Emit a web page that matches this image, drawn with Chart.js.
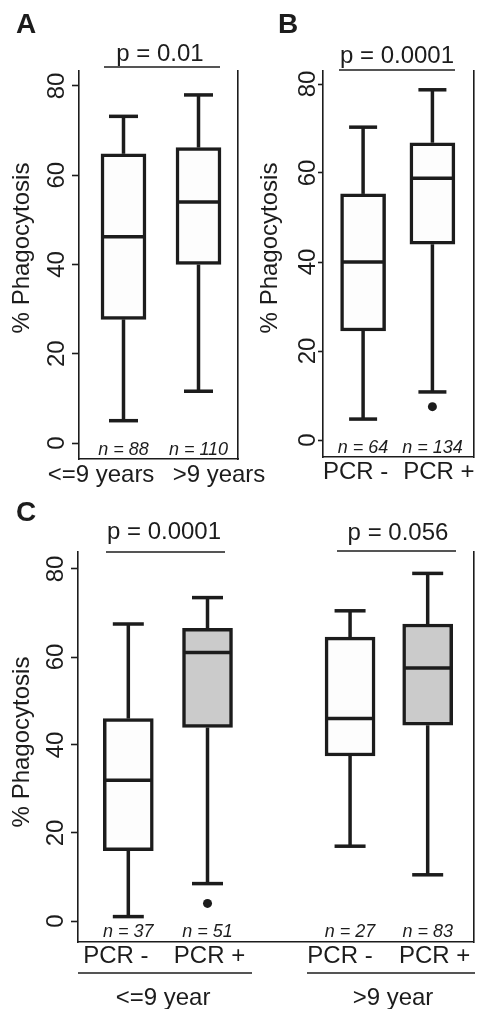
<!DOCTYPE html>
<html lang="en">
<head>
<meta charset="UTF-8">
<meta name="viewport" content="width=device-width, initial-scale=1.0">
<title>% Phagocytosis</title>
<script src="https://cdn.jsdelivr.net/npm/chart.js"></script>
<style>
    body {
        margin: 0;
        background: #ffffff;
    }
    #wrap {
        position: relative;
        width: 478px;
        height: 1009px;
        overflow: hidden;
    }
    canvas {
        position: absolute;
    }
</style>
</head>
<body>
<div id="wrap">
    <canvas id="chartA"></canvas>
    <canvas id="chartB"></canvas>
    <canvas id="chartC"></canvas>
</div>

<script>
    // A: age groups
    const groupsA = ["<=9 years", ">9 years"];
    const minA = [5, 11.6];
    const q1A = [27.7, 40];
    const medA = [46.2, 54];
    const q3A = [64.8, 66.2];
    const maxA = [73.2, 78];
    const outA = [[], []];
    const nA = [88, 110];
    const pA = ["p = 0.01"];

    // B: PCR status
    const groupsB = ["PCR -", "PCR +"];
    const minB = [4.7, 10.8];
    const q1B = [24.5, 44];
    const medB = [40, 58.8];
    const q3B = [55.3, 66.8];
    const maxB = [70.3, 78.7];
    const outB = [[], [7.5]];
    const nB = [64, 134];
    const pB = ["p = 0.0001"];

    // C: PCR status within age groups
    const groupsC = ["PCR -", "PCR +", "PCR -", "PCR +"];
    const agesC = ["<=9 year", ">9 year"];
    const minC = [1, 8.5, 17, 10.5];
    const q1C = [16, 44, 37.5, 44.5];
    const medC = [32, 61, 46, 57.5];
    const q3C = [46, 66.5, 64.5, 67.5];
    const maxC = [67.5, 73.5, 70.5, 79];
    const outC = [[], [4], [], []];
    const nC = [37, 51, 27, 83];
    const pC = ["p = 0.0001", "p = 0.056"];

    const yTicks = [0, 20, 40, 60, 80];
    const yTitle = "% Phagocytosis";

    const INK = "#1c1c1c";
    const FONT = "'Liberation Sans', Arial, sans-serif";
    const WHITE = "#fdfdfd";
    const GREY = "#cbcbcb";
    const BOX_LW = 3.5;

    // page-pixel layout of each panel
    const layoutA = {
        canvas: { x: 0, y: 0, w: 300, h: 495 },
        area: { l: 79, r: 238, t: 71, b: 459 },
        y0: 443, y80: 86,
        xs: [1, 2], x1px: 123.5, x2px: 198.5,
        box: 45, cap: 29, tickLen: 7, tickLabelX: 57,
        labelX: [101, 219], labelPad: 2,
        letter: "A", letterX: 16, letterY: 33,
        titleX: 22.5, titleY: 248,
        p: [{ x1: 104, x2: 220, y: 67, tx: 160, ty: 61 }],
        nY: 455,
        fills: [WHITE, WHITE]
    };
    const layoutB = {
        canvas: { x: 240, y: 0, w: 238, h: 495 },
        area: { l: 323, r: 475, t: 71, b: 457 },
        y0: 440, y80: 84,
        xs: [1, 2], x1px: 363.5, x2px: 433.5,
        box: 45, cap: 28, tickLen: 5, tickLabelX: 308,
        labelX: [356, 440], labelPad: 1,
        letter: "B", letterX: 278, letterY: 33,
        titleX: 270, titleY: 248,
        p: [{ x1: 339, x2: 455, y: 70, tx: 397, ty: 63 }],
        nY: 453,
        fills: [WHITE, WHITE]
    };
    const layoutC = {
        canvas: { x: 0, y: 495, w: 478, h: 514 },
        area: { l: 78, r: 475, t: 552, b: 942 },
        y0: 921, y80: 569,
        xs: [1, 2, 3.8, 4.78], x1px: 128.5, x2px: 208,
        box: 50, cap: 31, tickLen: 7, tickLabelX: 56,
        labelX: [116, 210, 341, 436], labelPad: 0,
        letter: "C", letterX: 16, letterY: 521,
        titleX: 22.5, titleY: 742,
        p: [
            { x1: 106, x2: 225, y: 552, tx: 164, ty: 539 },
            { x1: 337, x2: 456, y: 551, tx: 398, ty: 540 }
        ],
        nY: 937,
        fills: [WHITE, GREY, WHITE, GREY],
        ages: [
            { x1: 78, x2: 252, tx: 163 },
            { x1: 307, x2: 475, tx: 393 }
        ],
        ageLineY: 973, ageTextY: 1005
    };

    function makeDecor(L, S) {
        const ox = L.canvas.x, oy = L.canvas.y;
        const seg = (ctx, x1, y1, x2, y2) => {
            ctx.beginPath();
            ctx.moveTo(x1, y1);
            ctx.lineTo(x2, y2);
            ctx.stroke();
        };
        return {
            id: "decor" + L.letter,
            beforeDatasetsDraw(chart) {
                const { ctx, scales: { x, y } } = chart;
                ctx.save();
                ctx.strokeStyle = INK;
                ctx.lineWidth = BOX_LW;
                S.min.forEach((mn, i) => {
                    const cx = x.getPixelForValue(L.xs[i]);
                    const top = y.getPixelForValue(S.max[i]);
                    const bot = y.getPixelForValue(mn);
                    seg(ctx, cx, y.getPixelForValue(S.q3[i]), cx, top);
                    seg(ctx, cx, y.getPixelForValue(S.q1[i]), cx, bot);
                    seg(ctx, cx - L.cap / 2, top, cx + L.cap / 2, top);
                    seg(ctx, cx - L.cap / 2, bot, cx + L.cap / 2, bot);
                });
                ctx.restore();
            },
            afterDatasetsDraw(chart) {
                const { ctx, scales: { x, y } } = chart;
                ctx.save();
                ctx.strokeStyle = INK;
                ctx.lineWidth = BOX_LW;
                S.med.forEach((m, i) => {
                    const cx = x.getPixelForValue(L.xs[i]);
                    const py = y.getPixelForValue(m);
                    seg(ctx, cx - L.box / 2 + 1.5, py, cx + L.box / 2 - 1.5, py);
                });
                ctx.restore();
            },
            afterDraw(chart) {
                const { ctx, scales: { x, y } } = chart;
                ctx.save();
                ctx.fillStyle = INK;
                ctx.strokeStyle = INK;

                // rotated y tick labels
                ctx.font = "24px " + FONT;
                ctx.textAlign = "center";
                ctx.textBaseline = "middle";
                y.ticks.forEach(t => {
                    ctx.save();
                    ctx.translate(L.tickLabelX - ox, y.getPixelForValue(t.value));
                    ctx.rotate(-Math.PI / 2);
                    ctx.fillText(String(t.value), 0, 0);
                    ctx.restore();
                });

                // y title
                ctx.save();
                ctx.translate(L.titleX - ox, L.titleY - oy);
                ctx.rotate(-Math.PI / 2);
                ctx.fillText(yTitle, 0, 0);
                ctx.restore();

                // panel letter
                ctx.textAlign = "left";
                ctx.textBaseline = "alphabetic";
                ctx.font = "bold 28px " + FONT;
                ctx.fillText(L.letter, L.letterX - ox, L.letterY - oy);

                // p values
                ctx.font = "24px " + FONT;
                ctx.textAlign = "center";
                ctx.lineWidth = 1.5;
                L.p.forEach((p, i) => {
                    ctx.fillText(S.p[i], p.tx - ox, p.ty - oy);
                    seg(ctx, p.x1 - ox, p.y - oy, p.x2 - ox, p.y - oy);
                });

                // n labels
                ctx.font = "italic 18px " + FONT;
                S.n.forEach((n, i) => {
                    ctx.fillText("n = " + n, x.getPixelForValue(L.xs[i]), L.nY - oy);
                });

                // age group row
                if (L.ages) {
                    ctx.font = "24px " + FONT;
                    L.ages.forEach((g, i) => {
                        seg(ctx, g.x1 - ox, L.ageLineY - oy, g.x2 - ox, L.ageLineY - oy);
                        ctx.fillText(S.ages[i], g.tx - ox, L.ageTextY - oy);
                    });
                }
                ctx.restore();
            }
        };
    }

    function build(id, L, S) {
        const cv = document.getElementById(id);
        cv.style.left = L.canvas.x + "px";
        cv.style.top = L.canvas.y + "px";
        cv.width = L.canvas.w;
        cv.height = L.canvas.h;

        const ppu = (L.y0 - L.y80) / 80;
        const yMin = -(L.area.b - L.y0) / ppu;
        const yMax = 80 + (L.y80 - L.area.t) / ppu;
        const ppx = (L.x2px - L.x1px) / (L.xs[1] - L.xs[0]);
        const toX = px => L.xs[0] + (px - L.x1px) / ppx;

        const boxes = S.q1.map((q, i) => ({ x: L.xs[i], y: [q, S.q3[i]] }));
        const outliers = [];
        S.out.forEach((vals, i) => vals.forEach(v => outliers.push({ x: L.xs[i], y: v })));

        new Chart(cv.getContext("2d"), {
            type: "bar",
            data: {
                datasets: [{
                    data: boxes,
                    backgroundColor: L.fills,
                    borderColor: INK,
                    borderWidth: BOX_LW,
                    borderSkipped: false,
                    barThickness: L.box,
                    yAxisID: "y"
                }, {
                    type: "scatter",
                    data: outliers,
                    pointRadius: 4.5,
                    pointBackgroundColor: INK,
                    pointBorderWidth: 0,
                    yAxisID: "y"
                }]
            },
            options: {
                responsive: false,
                animation: false,
                layout: {
                    padding: {
                        left: 0,
                        top: L.area.t - L.canvas.y,
                        right: L.canvas.x + L.canvas.w - L.area.r,
                        bottom: 0
                    }
                },
                plugins: {
                    legend: { display: false },
                    tooltip: { enabled: false }
                },
                scales: {
                    x: {
                        type: "linear",
                        min: L.xs[0] - (L.x1px - L.area.l) / ppx,
                        max: L.xs[0] + (L.area.r - L.x1px) / ppx,
                        offset: false,
                        afterBuildTicks: s => { s.ticks = L.labelX.map(px => ({ value: toX(px) })); },
                        afterFit: s => { s.height = L.canvas.y + L.canvas.h - L.area.b; },
                        ticks: {
                            autoSkip: false,
                            maxRotation: 0,
                            minRotation: 0,
                            padding: L.labelPad,
                            color: INK,
                            font: { family: FONT, size: 24 },
                            callback: (v, i) => S.groups[i]
                        },
                        grid: { display: false, drawTicks: false },
                        border: { display: true, color: INK, width: 1.6 }
                    },
                    y: {
                        type: "linear",
                        position: "left",
                        min: yMin,
                        max: yMax,
                        afterBuildTicks: s => { s.ticks = yTicks.map(v => ({ value: v })); },
                        afterFit: s => { s.width = L.area.l - L.canvas.x; },
                        ticks: { display: false },
                        grid: {
                            display: true,
                            drawOnChartArea: false,
                            drawTicks: true,
                            tickLength: L.tickLen,
                            tickColor: INK,
                            tickWidth: 1.6
                        },
                        border: { display: true, color: INK, width: 1.6 }
                    },
                    yr: {
                        type: "linear",
                        position: "right",
                        min: 0,
                        max: 1,
                        afterFit: s => { s.width = 0; },
                        ticks: { display: false },
                        grid: { display: false, drawTicks: false },
                        border: { display: true, color: INK, width: 1.6 }
                    }
                }
            },
            plugins: [makeDecor(L, S)]
        });
    }

    build("chartA", layoutA, {
        groups: groupsA, min: minA, q1: q1A, med: medA, q3: q3A, max: maxA,
        out: outA, n: nA, p: pA
    });
    build("chartB", layoutB, {
        groups: groupsB, min: minB, q1: q1B, med: medB, q3: q3B, max: maxB,
        out: outB, n: nB, p: pB
    });
    build("chartC", layoutC, {
        groups: groupsC, min: minC, q1: q1C, med: medC, q3: q3C, max: maxC,
        out: outC, n: nC, p: pC, ages: agesC
    });
</script>
</body>
</html>
